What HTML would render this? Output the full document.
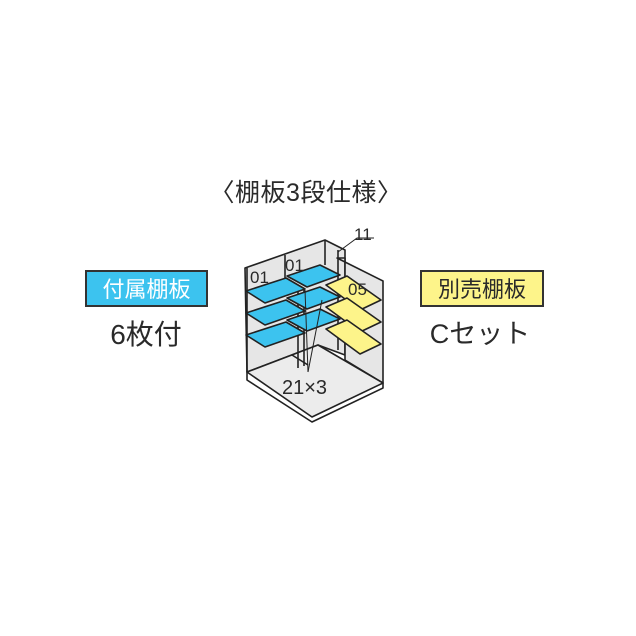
<!DOCTYPE html>
<html><head><meta charset="utf-8"><style>
body{margin:0;background:#fff;width:636px;height:636px;overflow:hidden}
svg{display:block}
text{font-family:"Liberation Sans","Noto Sans CJK JP",sans-serif;fill:#2a2a2a}
</style></head><body>
<svg width="636" height="636" viewBox="0 0 636 636">
<text x="306" y="201" font-size="25" text-anchor="middle" letter-spacing="0.5">〈棚板3段仕様〉</text>
<rect x="86" y="271" width="121" height="35" fill="#3cc3ef" stroke="#333" stroke-width="2"/>
<text x="146.5" y="297" font-size="22" text-anchor="middle" style="fill:#fff">付属棚板</text>
<text x="146" y="344" font-size="28" text-anchor="middle">6枚付</text>
<rect x="421" y="271" width="122" height="35" fill="#fdf48a" stroke="#333" stroke-width="2"/>
<text x="482" y="297" font-size="22" text-anchor="middle">別売棚板</text>
<text x="480" y="343" font-size="27" text-anchor="middle">Cセット</text>

<g stroke="#222" stroke-width="1.6" stroke-linejoin="round">
<polygon points="245,268 325,240 345,250 345,355 318,345 247,372" fill="#e6e6e6"/>
<polygon points="337,258 383,281 383,383 345,360 345,258" fill="#e6e6e6"/>
<polygon points="247,372 318,345 383,383 312,417" fill="#ececec"/>
<polyline points="247,372 247,380 312,422 383,388 383,383" fill="none"/>
<line x1="247" y1="268" x2="247" y2="372"/>
<line x1="285" y1="255" x2="285" y2="285"/>
<line x1="325" y1="240" x2="325" y2="265"/>
<line x1="338" y1="250" x2="338" y2="350"/>
<line x1="298" y1="290" x2="298" y2="368"/>
<line x1="304" y1="288" x2="304" y2="366"/>
<line x1="292" y1="355" x2="308" y2="365"/>
<g fill="#3cc3ef">
<polygon points="246,291 286,278 305,289 265,303"/>
<polygon points="287,276 320,265 340,275 307,287"/>
<polygon points="246,313 286,300 305,311 265,325"/>
<polygon points="287,298 320,287 340,297 307,309"/>
<polygon points="246,335 286,322 305,333 265,347"/>
<polygon points="287,320 320,309 340,319 307,331"/>
</g>
<g fill="#fdf48a">
<polygon points="326,285 347,276 381,300 360,310"/>
<polygon points="326,307 347,298 381,322 360,332"/>
<polygon points="326,329 347,320 381,344 360,354"/>
</g>
<line x1="305" y1="290" x2="308" y2="372" stroke-width="1"/>
<line x1="322" y1="300" x2="308" y2="372" stroke-width="1"/>
<polyline points="338,252 357,238 374,238" fill="none" stroke-width="1"/>
</g>
<text x="250" y="283" font-size="17">01</text>
<text x="285" y="271" font-size="17">01</text>
<text x="348" y="295" font-size="17">05</text>
<text x="354" y="240" font-size="17">11</text>
<text x="282" y="394" font-size="20">21×3</text>
</svg>
</body></html>
